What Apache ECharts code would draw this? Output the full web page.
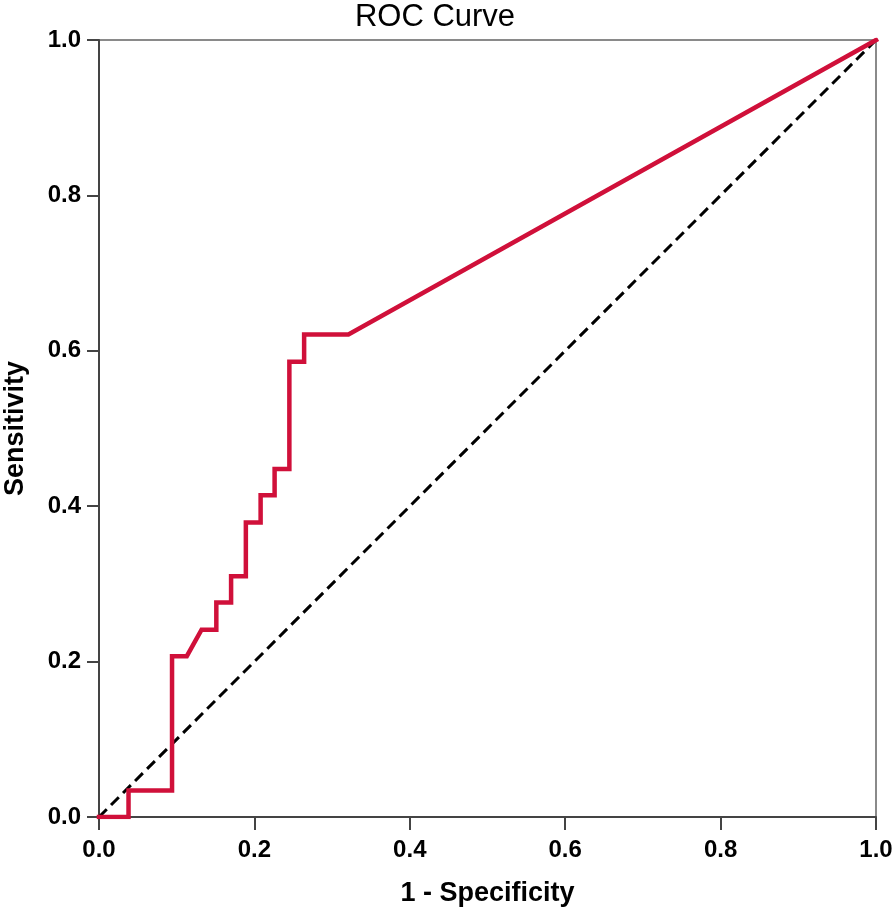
<!DOCTYPE html>
<html>
<head>
<meta charset="utf-8">
<script src="https://cdn.jsdelivr.net/npm/echarts@6/dist/echarts.min.js"></script>
<style>
html,body{margin:0;padding:0;background:#fff;}
#main{width:894px;height:917px;}
</style>
</head>
<body>
<div id="main"></div>
<script>
// ROC curve points (1 - specificity, sensitivity)
const fpr = [0, 0.038, 0.038, 0.094, 0.094, 0.113, 0.132, 0.151, 0.151, 0.170, 0.170, 0.189, 0.189, 0.208, 0.208, 0.226, 0.226, 0.245, 0.245, 0.264, 0.264, 0.321, 1];
const tpr = [0, 0, 0.034, 0.034, 0.207, 0.207, 0.241, 0.241, 0.276, 0.276, 0.310, 0.310, 0.379, 0.379, 0.414, 0.414, 0.448, 0.448, 0.586, 0.586, 0.621, 0.621, 1];
// reference diagonal
const refX = [0, 1];
const refY = [0, 1];
const tickValues = [0, 0.2, 0.4, 0.6, 0.8, 1.0];

const rocData = fpr.map((x, i) => [x, tpr[i]]);
const refData = refX.map((x, i) => [x, refY[i]]);

const chart = echarts.init(document.getElementById('main'), null, {renderer: 'canvas'});
const font = 'Liberation Sans, Arial, sans-serif';
chart.setOption({
  animation: false,
  backgroundColor: '#fff',
  title: {
    text: 'ROC Curve',
    left: 430,
    top: -3,
    textAlign: 'center',
    textStyle: {fontFamily: font, fontSize: 31, fontWeight: 'normal', color: '#000'}
  },
  grid: {
    left: 99, right: 18, top: 40, bottom: 100,
    containLabel: false, outerBoundsMode: 'none',
    show: true, borderColor: '#8a8a8a', borderWidth: 2, backgroundColor: '#fff'
  },
  xAxis: {
    type: 'value', min: 0, max: 1, interval: 0.2,
    name: '1 - Specificity', nameLocation: 'middle', nameGap: 63,
    nameTextStyle: {fontFamily: font, fontSize: 27, fontWeight: 'bold', color: '#000'},
    axisLine: {show: true, lineStyle: {color: '#444', width: 2}},
    axisTick: {show: true, length: 13, lineStyle: {color: '#444', width: 2}},
    axisLabel: {fontFamily: font, fontSize: 24, fontWeight: 'bold', color: '#000', margin: 21,
      formatter: v => v.toFixed(1)},
    splitLine: {show: false}
  },
  yAxis: {
    type: 'value', min: 0, max: 1, interval: 0.2,
    name: 'Sensitivity', nameLocation: 'middle', nameGap: 70,
    nameTextStyle: {fontFamily: font, fontSize: 27, fontWeight: 'bold', color: '#000'},
    axisLine: {show: true, lineStyle: {color: '#444', width: 2}},
    axisTick: {show: true, length: 12, lineStyle: {color: '#444', width: 2}},
    axisLabel: {fontFamily: font, fontSize: 24, fontWeight: 'bold', color: '#000', margin: 18,
      formatter: v => v.toFixed(1)},
    splitLine: {show: false}
  },
  series: [
    {
      type: 'line', data: refData, symbol: 'none', silent: true,
      lineStyle: {color: '#000', width: 3, type: [11, 6]}
    },
    {
      type: 'line', data: rocData, symbol: 'none', silent: true,
      lineStyle: {color: '#d0103a', width: 4.5, cap: 'square', join: 'miter'}
    }
  ]
});
</script>
</body>
</html>
